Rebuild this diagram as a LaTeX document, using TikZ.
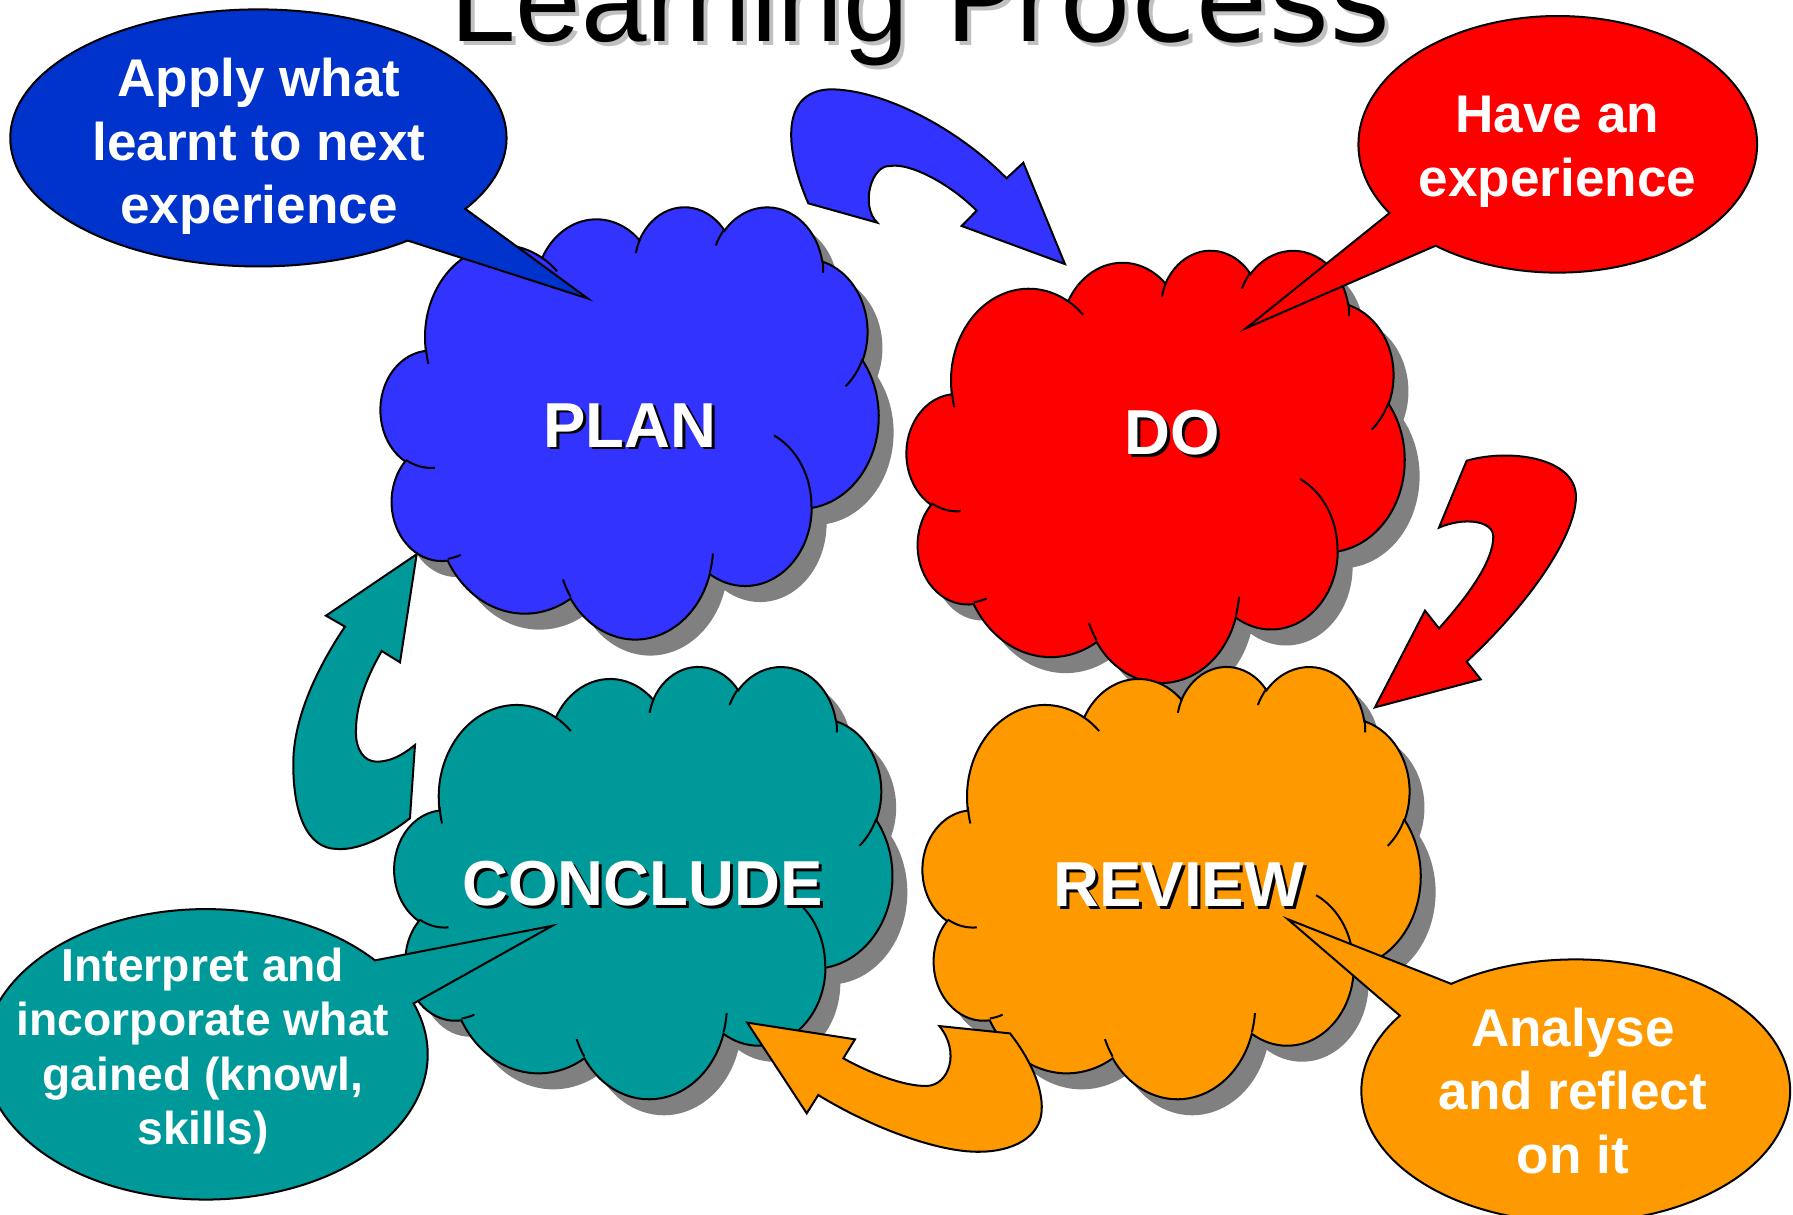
\documentclass[tikz,border=0pt]{standalone}
\usepackage{fontspec}
\setmainfont{Liberation Sans}
\newfontfamily\verafont{DejaVu Sans}

\definecolor{planblue}{HTML}{3333FF}
\definecolor{applyblue}{HTML}{0033CC}
\definecolor{dored}{HTML}{FF0000}
\definecolor{concludeteal}{HTML}{009999}
\definecolor{revieworange}{HTML}{FF9900}
\definecolor{cloudshadow}{HTML}{808080}
\definecolor{titleshadow}{HTML}{C0C0C0}

% one bump of a cloud: x radius, y radius, start angle, sweep
\newcommand\bump[4]{%
  arc [x radius = #1, y radius = #2,
    start angle = {atan2(#1*sin(#3), #2*cos(#3))},
    delta angle = {Mod(atan2(#1*sin(#3+#4), #2*cos(#3+#4)) - atan2(#1*sin(#3), #2*cos(#3)), 360)}]}

\newcommand\cloudoutline{(39.00,143.70)
  \bump{67.53}{91.90}{-190.4875}{123.7805}
  \bump{53.33}{72.67}{-144.1024}{89.9452}
  \bump{43.65}{59.45}{-145.8079}{99.7230}
  \bump{48.57}{65.95}{-130.9861}{117.2417}
  \bump{53.33}{72.73}{-78.7089}{109.0269}
  \bump{67.75}{92.20}{-46.2673}{130.2690}
  \bump{57.85}{78.67}{0.6250}{114.0333}
  \bump{67.52}{92.15}{22.4516}{115.1726}
  \bump{77.20}{105.43}{66.2426}{75.7110}
  \bump{43.60}{59.18}{-274.9421}{146.7356}
  \bump{43.45}{59.45}{-246.8285}{152.5189} -- cycle}

\newcommand\cloudcreases{
  (46.93,261.77) \bump{43.45}{59.45}{86.742}{26.4295}
  (69.28,348.99) \bump{43.60}{59.18}{73.6105}{11.4475}
  (164.78,390.90) \bump{67.52}{92.15}{137.6242}{14.0811}
  (288.27,347.51) \bump{67.52}{92.15}{6.4533}{15.9984}
  (341.29,229.54) \bump{57.85}{78.67}{-70.2924}{70.9174}
  (417.98,153.54) \bump{53.33}{72.73}{30.3180}{27.7515}
  (383.24,54.26) \bump{48.57}{65.95}{-13.7443}{14.8589}
  (290.78,39.52) \bump{48.57}{65.95}{-149.1815}{18.1954}
  (221.41,47.20) \bump{43.65}{59.45}{-163.4943}{17.6864}
  (140.00,51.92) \bump{67.53}{91.90}{-66.7070}{12.3194}
  (41.27,157.89) \bump{67.53}{91.90}{159.6324}{13.8808}}

\newcommand\learningcloud[3]{%
  \begin{scope}[shift = {(#1+13,#2+14)}, cloud axes]
    \fill [cloudshadow] \cloudoutline;
  \end{scope}
  \begin{scope}[shift = {(#1,#2)}, cloud axes]
    \filldraw [cloud line, fill = #3] \cloudoutline;
    \draw [cloud line] \cloudcreases;
  \end{scope}}

\begin{document}
\begin{tikzpicture}
  [
    x = 0.01cm,
    y = -0.01cm,
    cloud axes/.style = {
      x = 0.010069cm,
      y = -0.00875cm,
    },
    cloud line/.style = {
      draw = black,
      line width = 0.5pt,
    },
    arrow line/.style = {
      draw = black,
      line width = 0.5pt,
    },
    bubble line/.style = {
      draw = black,
      line width = 0.5pt,
    },
    cloud label/.style = {
      text = white,
      inner sep = 0pt,
      anchor = base,
      font = \fontsize{15.8}{19}\selectfont\bfseries,
    },
    label shadow/.style = {
      cloud label,
      text = black,
    },
    bubble text/.style = {
      text = white,
      align = center,
      inner sep = 0pt,
      anchor = north,
      font = \fontsize{13.2}{15.85}\selectfont\bfseries,
    },
    title word/.style = {
      inner sep = 0pt,
      anchor = base west,
      font = \fontsize{29.3}{35}\selectfont,
    },
  ]

  \useasboundingbox (0,0) rectangle (1568,1062);
  \clip (0,0) rectangle (1568,1062);

  \learningcloud{333}{180}{planblue}
  \learningcloud{793}{218}{dored}
  \learningcloud{345}{582}{concludeteal}
  \learningcloud{807}{582}{revieworange}

  \node (plan shadow) [label shadow] at (553.5,393.5) {PLAN};
  \node (plan) [cloud label] at (551,391) {PLAN};
  \node (do shadow) [label shadow] at (1027.5,400) {DO};
  \node (do) [cloud label] at (1025,397.5) {DO};
  \node (conclude shadow) [label shadow] at (564.5,794.5) {CONCLUDE};
  \node (conclude) [cloud label] at (562,792) {CONCLUDE};
  \node (review shadow) [label shadow] at (1033.5,795.5) {REVIEW};
  \node (review) [cloud label] at (1031,793) {REVIEW};

  \filldraw [arrow line, fill = planblue]
    (706.9,177.8) .. controls (688,135) and (680,80) .. (725.8,78.1)
    .. controls (770,78) and (835,110) .. (880.3,155.9)
    -- (894.9,142.3) -- (931.3,230.9) -- (841,197.6) -- (854.1,184.2)
    .. controls (830,160) and (795,142) .. (778.3,145.2)
    .. controls (762,144) and (752,180) .. (767.2,194.7) -- cycle;

  \filldraw [arrow line, fill = dored]
    (1282.6,402.9) .. controls (1320,392) and (1378,400) .. (1378.2,434.3)
    .. controls (1378,470) and (1335,530) .. (1282.6,578.6)
    -- (1294.9,594.1) -- (1202.4,618.6) -- (1246.2,534) -- (1258.4,549.5)
    .. controls (1285,520) and (1306,490) .. (1305.9,469.3)
    .. controls (1306,455) and (1280,452) .. (1258.4,461.4) -- cycle;

  \filldraw [arrow line, fill = revieworange]
    (653.5,894.3) -- (747.7,908.9) -- (737.5,925.5)
    .. controls (760,938) and (790,950) .. (810.4,949.7)
    .. controls (830,949) and (840,920) .. (821.5,897.3)
    -- (883.3,903.7)
    .. controls (900,925) and (912,950) .. (911,970.7)
    .. controls (910,995) and (885,1007) .. (857,1007.2)
    .. controls (820,1008) and (760,985) .. (715.6,957.6)
    -- (705.5,973.6) -- cycle;

  \filldraw [arrow line, fill = concludeteal]
    (364.4,484.7) -- (285.1,538.4) -- (301.7,548)
    .. controls (280,580) and (257,625) .. (256.5,666.1)
    .. controls (256,710) and (268,742) .. (294.4,742.4)
    .. controls (315,744) and (340,730) .. (358.5,715.6)
    -- (362.9,651.5)
    .. controls (350,662) and (340,666) .. (329.4,666.1)
    .. controls (318,666) and (311,655) .. (311.3,639.9)
    .. controls (311,615) and (322,590) .. (333.8,569.3)
    -- (349.8,579.2) -- cycle;

  \filldraw [bubble line, fill = applyblue] (226,120.6) ++(53:217 and 112.4)
    arc [start angle = 53, end angle = 393.5, x radius = 217, y radius = 112.4]
    -- (514,261) -- cycle;
  \filldraw [bubble line, fill = dored] (1362.3,126.2) ++(147.6:174.3 and 112.2)
    arc [start angle = 147.6, end angle = 487.8, x radius = 174.3, y radius = 112.2]
    -- (1089.6,287.1) -- cycle;
  \filldraw [bubble line, fill = concludeteal] (180,922) ++(-20.5:194 and 127)
    arc [start angle = -20.5, end angle = 319.7, x radius = 194, y radius = 127]
    -- (483,809.6) -- cycle;
  \filldraw [bubble line, fill = revieworange] (1378,954) ++(234.5:187.5 and 115)
    arc [start angle = 234.5, end angle = 574.9, x radius = 187.5, y radius = 115]
    -- (1126.1,803.8) -- cycle;

  \node (apply) [bubble text] at (226.5,50) {Apply what\\learnt to next\\experience};
  \node (have) [bubble text] at (1362,83.5) {Have an\\experience};
  \node (interpret) [bubble text, font = \fontsize{11.5}{13.46}\selectfont\bfseries]
    at (177.5,828.6) {Interpret and\\incorporate what\\gained (knowl,\\skills)};
  \node (analyse) [bubble text] at (1375.5,880.6) {Analyse\\and reflect\\on it};

  \node (learning shadow) [title word, text = titleshadow] at (396.5,40) {Learning};
  \node (learning) [title word] at (393,36.5) {Learning};
  \node (process shadow) [title word, text = titleshadow, font = \verafont\fontsize{29.3}{35}\selectfont]
    at (828.5,40) {Process};
  \node (process) [title word, font = \verafont\fontsize{29.3}{35}\selectfont]
    at (825,36.5) {Process};

\end{tikzpicture}
\end{document}
